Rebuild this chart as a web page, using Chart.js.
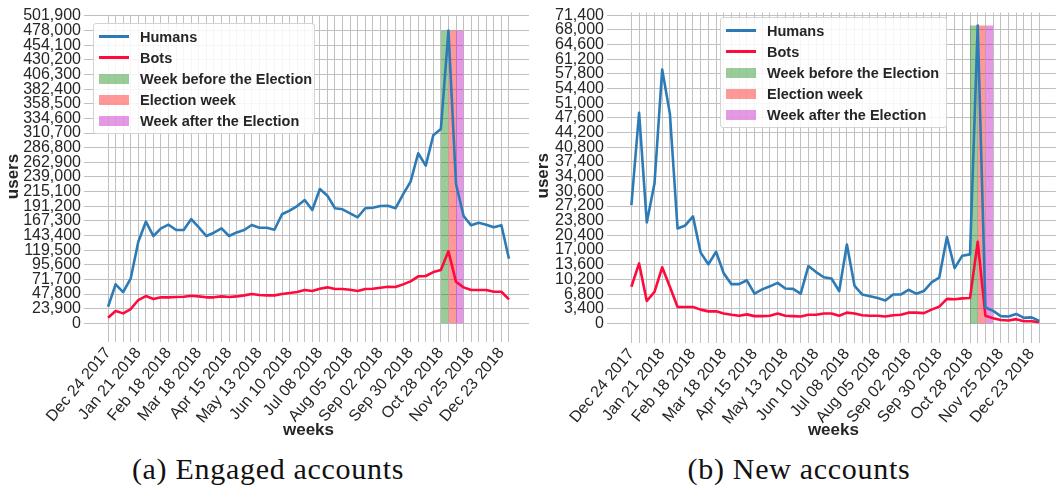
<!DOCTYPE html>
<html lang="en">
<head>
<meta charset="UTF-8">
<title>Engaged and new accounts per week</title>
<style>
    body { margin: 0; background: #fff; font-family: "Liberation Sans", Arial, sans-serif; }
    #page { position: relative; width: 1056px; height: 491px; overflow: hidden; }
    .panel { position: absolute; top: 0; height: 445px; }
    .panel canvas { display: block; }
    .legend { position: absolute; background: rgba(255,255,255,0.85); border: 1px solid #d4d4d4; border-radius: 3px; padding: 2px 0; box-sizing: border-box; }
    .legend .row { height: 21px; display: flex; align-items: center; font-weight: bold; font-size: 14.5px; color: #262626; white-space: nowrap; }
    .legend .key { width: 30px; margin: 0 11px 0 5px; flex: none; }
    .legend .line { height: 2.5px; }
    .legend .patch { height: 10px; }
    .caption { position: absolute; top: 452px; text-align: center; font-family: "Liberation Serif", "DejaVu Serif", serif; font-size: 30px; line-height: 34px; color: #111; letter-spacing: 0.7px; }
</style>
</head>
<body>
<div id="page">
    <div class="panel" style="left:0;width:530px;">
        <canvas id="engagedChart" width="530" height="445"></canvas>
        <div class="legend" id="engagedLegend" style="left:93px;top:23px;width:222px;"></div>
    </div>
    <div class="panel" style="left:530px;width:526px;">
        <canvas id="newChart" width="526" height="445"></canvas>
        <div class="legend" id="newLegend" style="left:190px;top:17px;width:227px;"></div>
    </div>
    <div class="caption" style="left:108px;width:320px;">(a) Engaged accounts</div>
    <div class="caption" style="left:639px;width:320px;">(b) New accounts</div>
</div>
<script src="https://cdn.jsdelivr.net/npm/chart.js@4"></script>
<script>
const weeks = [
    'Dec 24 2017', 'Dec 31 2017', 'Jan 07 2018', 'Jan 14 2018', 'Jan 21 2018', 'Jan 28 2018',
    'Feb 04 2018', 'Feb 11 2018', 'Feb 18 2018', 'Feb 25 2018', 'Mar 04 2018', 'Mar 11 2018',
    'Mar 18 2018', 'Mar 25 2018', 'Apr 01 2018', 'Apr 08 2018', 'Apr 15 2018', 'Apr 22 2018',
    'Apr 29 2018', 'May 06 2018', 'May 13 2018', 'May 20 2018', 'May 27 2018', 'Jun 03 2018',
    'Jun 10 2018', 'Jun 17 2018', 'Jun 24 2018', 'Jul 01 2018', 'Jul 08 2018', 'Jul 15 2018',
    'Jul 22 2018', 'Jul 29 2018', 'Aug 05 2018', 'Aug 12 2018', 'Aug 19 2018', 'Aug 26 2018',
    'Sep 02 2018', 'Sep 09 2018', 'Sep 16 2018', 'Sep 23 2018', 'Sep 30 2018', 'Oct 07 2018',
    'Oct 14 2018', 'Oct 21 2018', 'Oct 28 2018', 'Nov 04 2018', 'Nov 11 2018', 'Nov 18 2018',
    'Nov 25 2018', 'Dec 02 2018', 'Dec 09 2018', 'Dec 16 2018', 'Dec 23 2018', 'Dec 30 2018'
];

// (a) engaged accounts
const engagedHumans = [
    27100, 63700, 51100, 73500, 133300, 166000, 142600, 155200, 161100, 152400,
    152400, 170400, 156800, 142600, 148000, 155200, 142600, 148500, 152400, 160600,
    156200, 156200, 152900, 178100, 184000, 191600, 201400, 185100, 219400, 208500,
    187900, 186200, 179700, 173200, 187900, 188900, 191600, 192100, 187900, 210700,
    231300, 277700, 257500, 307100, 317400, 478000, 227600, 175300, 160100, 164400,
    161100, 156800, 160100, 105500
];
const engagedBots = [
    9100, 20100, 16300, 23400, 38100, 44600, 39700, 42500, 42500, 43000,
    43500, 45100, 44000, 42500, 42500, 44000, 43000, 44000, 45700, 47900,
    46300, 45700, 45700, 47900, 49500, 51100, 54400, 52800, 56500, 58800,
    56000, 56000, 54900, 52800, 56000, 56500, 58200, 59800, 59300, 63700,
    68600, 76800, 77300, 83800, 87100, 117600, 68000, 58800, 54400, 54400,
    54400, 51600, 51600, 39200
];
const engagedTickStep = 23900;

// (b) new accounts
const newHumans = [
    27400, 48800, 23400, 32400, 58800, 48600, 22000, 22700, 24800, 16400,
    13700, 16600, 11600, 9100, 9100, 10000, 6900, 7900, 8600, 9400,
    8100, 8000, 6900, 13300, 11900, 10700, 10400, 7500, 18300, 8700,
    6700, 6300, 5900, 5300, 6700, 6700, 7800, 6900, 7500, 9500,
    10600, 20000, 12800, 15700, 16000, 69000, 3700, 2900, 1700, 1600,
    2200, 1300, 1400, 600
];
const newBots = [
    8500, 13900, 5200, 7300, 13000, 8500, 3800, 3800, 3800, 3200,
    2800, 2800, 2300, 2000, 1800, 2100, 1700, 1700, 1800, 2300,
    1800, 1700, 1600, 2000, 2000, 2300, 2300, 1800, 2500, 2300,
    1900, 1800, 1800, 1600, 1900, 2000, 2500, 2500, 2400, 3200,
    3900, 5700, 5600, 5800, 5900, 18900, 1800, 1200, 800, 700,
    1000, 500, 500, 300
];
const newTickStep = 3400;
const tickCount = 22;

// election weeks: [start index, end index]
const electionSpans = [
    { label: 'Week before the Election', from: 44, to: 45, color: 'rgba(0,128,0,0.4)' },
    { label: 'Election week', from: 45, to: 46, color: 'rgba(255,0,0,0.4)' },
    { label: 'Week after the Election', from: 46, to: 47, color: 'rgba(191,0,191,0.4)' }
];
const humansColor = '#2c7bb6';
const botsColor = '#ff0a3c';

Chart.defaults.font.family = '"Liberation Sans", Arial, sans-serif';
Chart.defaults.color = '#262626';

function toPoints(values) {
    return values.map((v, i) => ({ x: i, y: v }));
}

function makeChart(canvasId, legendId, humans, bots, step, opts) {
    const top = Math.max(...humans);
    const datasets = [
        { label: 'Humans', data: toPoints(humans), borderColor: humansColor, borderWidth: 2.6, pointRadius: 0, tension: 0, fill: false, borderJoinStyle: 'round' },
        { label: 'Bots', data: toPoints(bots), borderColor: botsColor, borderWidth: 2.6, pointRadius: 0, tension: 0, fill: false, borderJoinStyle: 'round' }
    ];
    electionSpans.forEach(s => {
        datasets.push({
            label: s.label,
            data: [{ x: s.from, y: top }, { x: s.to, y: top }],
            borderWidth: 0,
            borderColor: 'rgba(0,0,0,0)',
            backgroundColor: s.color,
            pointRadius: 0,
            fill: 'origin'
        });
    });

    const yTicks = [];
    for (let k = 0; k < tickCount; k++) yTicks.push({ value: k * step });

    new Chart(document.getElementById(canvasId).getContext('2d'), {
        type: 'line',
        data: { datasets: datasets },
        options: {
            responsive: false,
            animation: false,
            events: [],
            layout: { padding: opts.padding },
            plugins: { legend: { display: false }, tooltip: { enabled: false } },
            scales: {
                x: {
                    type: 'linear',
                    min: -2.65,
                    max: opts.xMax,
                    afterBuildTicks: scale => { scale.ticks = weeks.map((w, i) => ({ value: i })); },
                    afterCalculateLabelRotation: scale => { scale.labelRotation = 50; },
                    afterFit: scale => { scale.height = opts.xAxisHeight; },
                    ticks: {
                        autoSkip: false,
                        maxRotation: 50,
                        minRotation: 50,
                        padding: 2,
                        font: { size: 16 },
                        callback: v => (v % 4 === 0 ? weeks[v] : '')
                    },
                    grid: { color: '#c0c0c0', lineWidth: 1, tickLength: 4 },
                    border: { display: false },
                    title: { display: true, text: 'weeks', font: { size: 17, weight: 'bold' }, padding: { top: 0, bottom: 4 } }
                },
                y: {
                    min: opts.yMin,
                    max: opts.yMax,
                    afterBuildTicks: scale => { scale.ticks = yTicks.slice(); },
                    afterFit: scale => { scale.width = opts.yAxisWidth; },
                    ticks: {
                        autoSkip: false,
                        padding: 3,
                        font: { size: 16 },
                        callback: v => v.toLocaleString('en-US')
                    },
                    grid: { color: '#c0c0c0', lineWidth: 1, tickLength: 4 },
                    border: { display: false },
                    title: { display: true, text: 'users', font: { size: 17, weight: 'bold' }, padding: { top: 3, bottom: 0 } }
                }
            }
        }
    });

    // legend box drawn inside the plot, like the original figure
    const legend = document.getElementById(legendId);
    legend.innerHTML = datasets.map((d, i) => {
        const key = i < 2
            ? `<span class="key line" style="background:${d.borderColor}"></span>`
            : `<span class="key patch" style="background:${d.backgroundColor}"></span>`;
        return `<div class="row">${key}<span>${d.label}</span></div>`;
    }).join('');
}

window.onload = function() {
    makeChart('engagedChart', 'engagedLegend', engagedHumans, engagedBots, engagedTickStep, {
        padding: { top: 15, left: 0, right: 1, bottom: 0 },
        yAxisWidth: 88, xAxisHeight: 107,
        xMax: 55.65, yMin: -23900, yMax: 503500
    });
    makeChart('newChart', 'newLegend', newHumans, newBots, newTickStep, {
        padding: { top: 12, left: 0, right: 0, bottom: 0 },
        yAxisWidth: 81, xAxisHeight: 106,
        xMax: 55.15, yMin: -3600, yMax: 72000
    });
};
</script>
</body>
</html>
